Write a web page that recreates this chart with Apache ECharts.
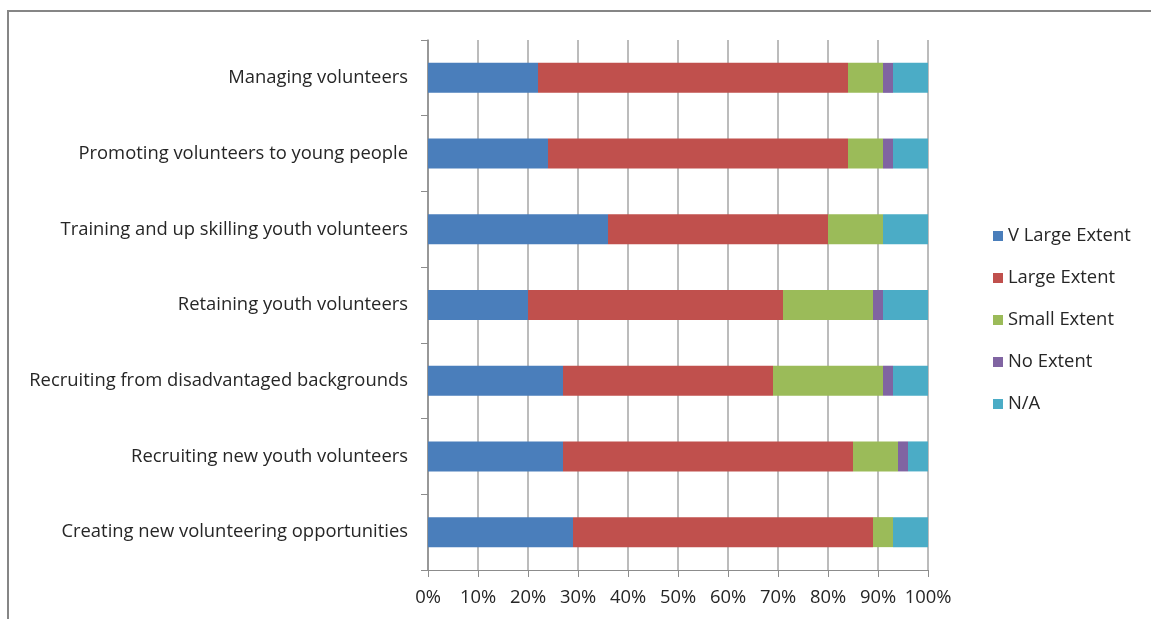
<!DOCTYPE html>
<html>
<head>
<meta charset="utf-8">
<script src="https://cdn.jsdelivr.net/npm/echarts@6/dist/echarts.min.js"></script>
<style>
  html, body { margin: 0; padding: 0; background: #fff; }
  #chart { width: 1151px; height: 619px; }
</style>
</head>
<body>
<div id="chart"></div>
<script>
// Categories listed top to bottom
const categories = [
  'Managing volunteers',
  'Promoting volunteers to young people',
  'Training and up skilling youth volunteers',
  'Retaining youth volunteers',
  'Recruiting from disadvantaged backgrounds',
  'Recruiting new youth volunteers',
  'Creating new volunteering opportunities'
];

// Share of responses (%) per category
const vLargeExtent = [22, 24, 36, 20, 27, 27, 29];
const largeExtent  = [62, 60, 44, 51, 42, 58, 60];
const smallExtent  = [7, 7, 11, 18, 22, 9, 4];
const noExtent     = [2, 2, 0, 2, 2, 2, 0];
const notApplicable = [7, 7, 9, 9, 7, 4, 7];

const seriesNames = ['V Large Extent', 'Large Extent', 'Small Extent', 'No Extent', 'N/A'];
const seriesColors = ['#4a7ebb', '#c0504d', '#9bbb59', '#8064a2', '#4bacc6'];
const seriesData = [vLargeExtent, largeExtent, smallExtent, noExtent, notApplicable];

const xTicks = [0, 10, 20, 30, 40, 50, 60, 70, 80, 90, 100];

const FONT = '"Open Sans", "Liberation Sans", sans-serif';
const TEXT_COLOR = '#262626';
const FONT_SIZE = 18.4;

const chart = echarts.init(document.getElementById('chart'), null, { renderer: 'canvas' });

chart.setOption({
  backgroundColor: '#ffffff',
  animation: false,
  textStyle: { fontFamily: FONT },
  graphic: [
    // chart frame
    {
      type: 'polyline',
      shape: { points: [[8, 619], [8, 11], [1151, 11]] },
      style: { stroke: '#868686', lineWidth: 2, fill: null },
      silent: true
    }
  ],
  grid: { left: 428, right: 223, top: 40, bottom: 49, containLabel: false },
  legend: {
    orient: 'vertical',
    left: 988,
    top: 220,
    padding: 5,
    itemWidth: 10,
    itemHeight: 10,
    itemGap: 20,
    icon: 'rect',
    data: seriesNames,
    textStyle: { fontFamily: FONT, fontSize: FONT_SIZE, color: TEXT_COLOR, lineHeight: 22 }
  },
  xAxis: {
    type: 'value',
    min: 0,
    max: 100,
    interval: 10,
    axisLine: { show: true, lineStyle: { color: '#8c8c8c', width: 1 } },
    axisTick: { show: true, length: 7, lineStyle: { color: '#8c8c8c' } },
    splitLine: { show: true, lineStyle: { color: '#a6a6a6', width: 1.5 } },
    axisLabel: {
      margin: 19,
      fontFamily: FONT,
      fontSize: FONT_SIZE,
      color: TEXT_COLOR,
      formatter: v => (xTicks.includes(v) ? v + '%' : '')
    }
  },
  yAxis: {
    type: 'category',
    inverse: true,
    data: categories,
    axisLine: { show: true, lineStyle: { color: '#8c8c8c', width: 1.5 } },
    axisTick: { show: true, length: 7, lineStyle: { color: '#8c8c8c' } },
    axisLabel: {
      margin: 20,
      fontFamily: FONT,
      fontSize: FONT_SIZE,
      color: TEXT_COLOR
    }
  },
  series: seriesNames.map((name, i) => ({
    name,
    type: 'bar',
    stack: 'total',
    barWidth: 30,
    data: seriesData[i],
    itemStyle: { color: seriesColors[i] },
    emphasis: { disabled: true }
  }))
});
</script>
</body>
</html>
